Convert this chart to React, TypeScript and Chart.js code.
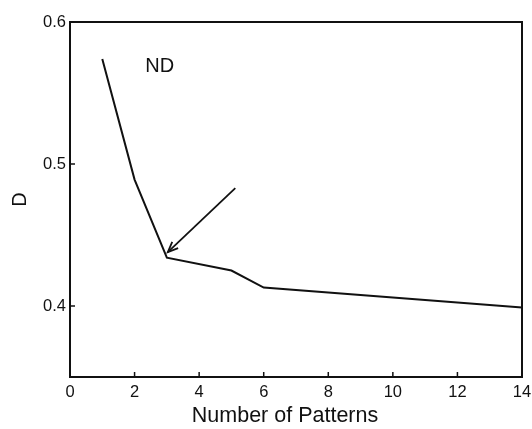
import React, { useEffect, useRef } from "react";
import { Chart, registerables } from "chart.js";

Chart.register(...registerables);

const patternCounts = [1, 2, 3, 5, 6, 14];
const dValues = [0.574, 0.489, 0.434, 0.425, 0.413, 0.399];
const arrowX = [5.12, 3.03];
const arrowY = [0.483, 0.438];
const xTickValues = [0, 2, 4, 6, 8, 10, 12, 14];
const yTickValues = [0.4, 0.5, 0.6];
const annotationText = "ND";
const annotationX = 2.78;
const annotationY = 0.569;
const xTitle = "Number of Patterns";
const yTitle = "D";

const FONT = "'Liberation Sans', Arial, Helvetica, sans-serif";

export default function App() {
  const ref = useRef<HTMLCanvasElement | null>(null);

  useEffect(() => {
    if (!ref.current) return;
    const framePlugin = {
      id: "framePlugin",
      afterDraw(chart: any) {
        const { ctx, chartArea } = chart;
        const xs = chart.scales.x;
        const ys = chart.scales.y;
        ctx.save();
        ctx.strokeStyle = "#111";
        ctx.lineWidth = 2;
        ctx.strokeRect(chartArea.left, chartArea.top, chartArea.right - chartArea.left, chartArea.bottom - chartArea.top);
        ctx.lineWidth = 1.5;
        ctx.beginPath();
        for (const v of xTickValues) {
          const px = xs.getPixelForValue(v);
          ctx.moveTo(px, chartArea.bottom);
          ctx.lineTo(px, chartArea.bottom - 5);
        }
        for (const v of yTickValues) {
          const py = ys.getPixelForValue(v);
          ctx.moveTo(chartArea.left, py);
          ctx.lineTo(chartArea.left + 5, py);
        }
        ctx.stroke();
        ctx.fillStyle = "#111";
        ctx.textAlign = "center";
        ctx.textBaseline = "middle";
        // x axis title
        ctx.font = `21.5px ${FONT}`;
        ctx.fillText(xTitle, (chartArea.left + chartArea.right) / 2 - 11, 416);
        // annotation text
        ctx.font = `20px ${FONT}`;
        ctx.fillText(annotationText, xs.getPixelForValue(annotationX), ys.getPixelForValue(annotationY));
        // arrowhead
        const x0 = xs.getPixelForValue(arrowX[0]);
        const y0 = ys.getPixelForValue(arrowY[0]);
        const x1 = xs.getPixelForValue(arrowX[1]);
        const y1 = ys.getPixelForValue(arrowY[1]);
        const ang = Math.atan2(y1 - y0, x1 - x0);
        const len = 11;
        const spread = 0.4;
        ctx.lineWidth = 1.8;
        ctx.beginPath();
        ctx.moveTo(x1 - len * Math.cos(ang - spread), y1 - len * Math.sin(ang - spread));
        ctx.lineTo(x1, y1);
        ctx.lineTo(x1 - len * Math.cos(ang + spread), y1 - len * Math.sin(ang + spread));
        ctx.stroke();
        ctx.restore();
      },
    };

    const chart = new Chart(ref.current, {
      type: "line",
      data: {
        datasets: [
          {
            data: patternCounts.map((x, i) => ({ x, y: dValues[i] })),
            borderColor: "#111",
            borderWidth: 2,
            pointRadius: 0,
            tension: 0,
            fill: false,
          },
          {
            data: arrowX.map((x, i) => ({ x, y: arrowY[i] })),
            borderColor: "#111",
            borderWidth: 1.8,
            pointRadius: 0,
            tension: 0,
            fill: false,
          },
        ],
      },
      options: {
        responsive: false,
        animation: false,
        layout: { padding: { top: 22, right: 10, bottom: 0, left: 0 } },
        plugins: { legend: { display: false }, tooltip: { enabled: false } },
        scales: {
          x: {
            type: "linear",
            min: 0,
            max: 14,
            grid: { display: false, drawTicks: false },
            border: { display: false },
            afterBuildTicks: (s: any) => {
              s.ticks = xTickValues.map((v) => ({ value: v }));
            },
            afterFit: (s: any) => {
              s.height = 52;
              s.paddingLeft = 0;
              s.paddingRight = 0;
            },
            ticks: {
              color: "#111",
              padding: 6,
              maxRotation: 0,
              autoSkip: false,
              font: { family: FONT, size: 16.5 },
              callback: (v: any) => String(v),
            },
            title: { display: false, text: xTitle },
          },
          y: {
            type: "linear",
            min: 0.35,
            max: 0.6,
            grid: { display: false, drawTicks: false },
            border: { display: false },
            afterBuildTicks: (s: any) => {
              s.ticks = yTickValues.map((v) => ({ value: v }));
            },
            afterFit: (s: any) => {
              s.width = 70;
              s.paddingTop = 0;
              s.paddingBottom = 0;
            },
            ticks: {
              color: "#111",
              padding: 4,
              autoSkip: false,
              font: { family: FONT, size: 16.5 },
              callback: (v: any) => Number(v).toFixed(1),
            },
            title: {
              display: true,
              text: yTitle,
              color: "#111",
              font: { family: FONT, size: 20 },
              padding: { top: 8, bottom: 0 },
            },
          },
        },
      },
      plugins: [framePlugin],
    });
    return () => chart.destroy();
  }, []);

  return (
    <div style={{ position: "absolute", left: 0, top: 0, width: 532, height: 429, background: "#fff" }}>
      <canvas ref={ref} width={532} height={429} style={{ display: "block" }} />
    </div>
  );
}
